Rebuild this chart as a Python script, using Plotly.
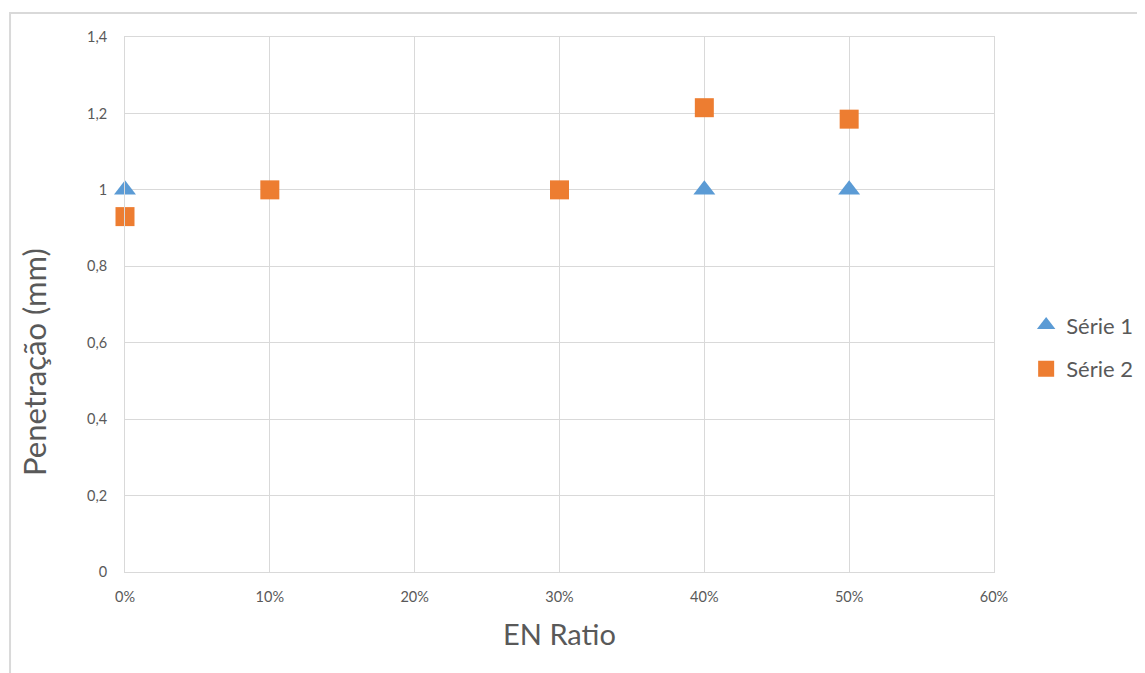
import plotly.graph_objects as go

# Data
serie1_x = [0.0, 0.4, 0.5]
serie1_y = [1.0, 1.0, 1.0]
serie2_x = [0.0, 0.1, 0.3, 0.4, 0.5]
serie2_y = [0.93, 1.0, 1.0, 1.215, 1.185]
x_ticks = [0, 0.1, 0.2, 0.3, 0.4, 0.5, 0.6]
y_ticks = [0, 0.2, 0.4, 0.6, 0.8, 1.0, 1.2, 1.4]

BLUE = "#5B9BD5"
ORANGE = "#ED7D31"
GRID = "#D9D9D9"
TEXT = "#595959"
FONT = "Lato, 'Open Sans', sans-serif"

fig = go.Figure()
fig.add_trace(go.Scatter(
    x=serie1_x, y=serie1_y, mode="markers", name="Série 1",
    marker=dict(symbol="triangle-up", size=19, color=BLUE),
    cliponaxis=False, legendgroup="a",
))
fig.add_trace(go.Scatter(
    x=serie2_x, y=serie2_y, mode="markers", name="Série 2",
    marker=dict(symbol="square", size=19, color=ORANGE),
    cliponaxis=False, legendgroup="b",
))

fig.update_layout(
    width=1145, height=673,
    margin=dict(l=117, r=159, t=29, b=109),
    paper_bgcolor="white", plot_bgcolor="white",
    separators=",.",
    font=dict(family=FONT, color=TEXT, size=14),
    showlegend=True,
    legend=dict(
        x=1.037, y=0.42, xanchor="left", yanchor="middle",
        font=dict(size=22, color=TEXT, family=FONT),
        traceorder="grouped", tracegroupgap=12,
        itemsizing="trace", itemwidth=30,
        bgcolor="rgba(0,0,0,0)",
    ),
    xaxis=dict(
        range=[0, 0.6], tickvals=x_ticks, tickformat=".0%",
        showgrid=True, gridcolor=GRID, gridwidth=1,
        showline=True, linecolor=GRID, linewidth=1, mirror=True,
        zeroline=False, ticks="", ticklabelstandoff=12,
        tickfont=dict(size=14.5, color=TEXT),
        title=dict(text="EN Ratio", font=dict(size=29, color=TEXT), standoff=20),
    ),
    yaxis=dict(
        range=[0, 1.4], tickvals=y_ticks,
        showgrid=True, gridcolor=GRID, gridwidth=1,
        showline=True, linecolor=GRID, linewidth=1, mirror=True,
        zeroline=False, ticks="", ticklabelstandoff=14,
        tickfont=dict(size=14.5, color=TEXT),
    ),
    annotations=[dict(
        text="Penetração (mm)", textangle=-90, showarrow=False,
        xref="paper", yref="paper", x=-0.1047, y=0.3925,
        xanchor="center", yanchor="middle",
        font=dict(size=31, color=TEXT, family=FONT),
    )],
    shapes=[dict(
        type="rect", xref="paper", yref="paper",
        x0=-0.1323, x1=1.25, y0=-0.35, y1=1.0449,
        line=dict(color=GRID, width=2), fillcolor="rgba(0,0,0,0)", layer="below",
    )],
)

fig.write_html("out.html")
